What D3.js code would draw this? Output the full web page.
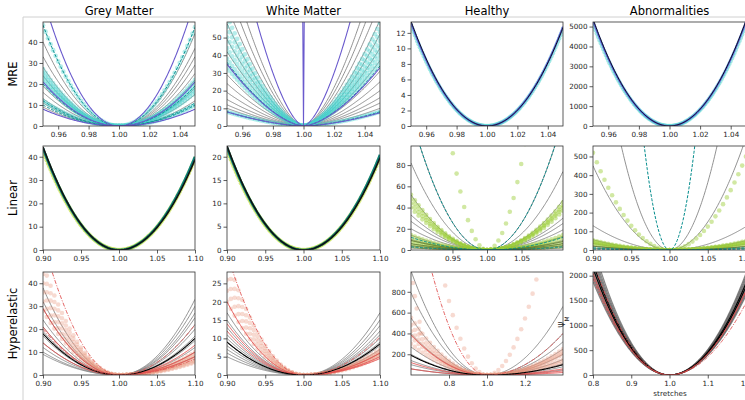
<!DOCTYPE html>
<html><head><meta charset="utf-8">
<script src="https://cdn.jsdelivr.net/npm/d3@7"></script>
<style>body{margin:0;background:#fff}svg{display:block}text{font-family:"DejaVu Sans",sans-serif}</style>
</head><body><svg id="c" width="745" height="400"></svg>
<script>
// ---------------- data (each curve: [value at left edge, value at right edge]) ----------------
const colTitles = ["Grey Matter", "White Matter", "Healthy", "Abnormalities"];
const rowTitles = ["MRE", "Linear", "Hyperelastic"];

// Row 1: MRE
const gmMreGray = [[40,44],[33,37],[28,33],[24,29],[19,25],[16,22],[13,18],[11,15],[9,12]];
const gmMreCyan = [[48,47],[27,22],[25,20],[23,18],[21,16],[12,10]];
const gmMreTeal = [[48,47],[20,19],[12,11],[10,10]];
const gmMrePurple = [[61,60],[21,21],[8,8]];
const wmMreGray = [[95,95],[80,82],[68,70],[58,60],[49,52],[42,44],[35,37],[29,31],[24,25],[19,20],[15,16],[12,13],[10,10]];
const wmMreCyan = [[62,58],[56,53],[50,48],[44,44],[38,40],[33,36],[8,8]];
const wmMreTeal = [[36,34],[8,8]];
const wmMrePurple = [[130,130],[35,33],[8,7.5],[100000,100000]];
const hMreCyan = [[13.0,12.5]];
const hMrePurple = [[13.3,12.8]];
const hMreBlack = [[13.5,12.7]];
const aMreCyan = [[5150,5100]];
const aMrePurple = [[5300,5250]];
const aMreBlack = [[5380,5300]];

// Row 2: Linear
const gmLinGreen = [[42.6,39.2]];
const gmLinTeal = [[43.6,40]];
const gmLinBlack = [[44.2,38.8]];
const wmLinGreen = [[21.5,19.9]];
const wmLinTeal = [[22,20.4]];
const wmLinBlack = [[22.3,19.8]];
const hLinGray = [[126,123],[82,74],[52,47],[33,30],[27,25],[20,19],[14,13],[10,9]];
const hLinGreen = [[450,400],[52,45],[48,42],[44,40],[40,37],[14,14],[10,11],[7,7],[4,4]];
const hLinTeal = [[126,123],[12,12],[3,3]];
const hLinOlive = [[9,8],[6,6],[4,4],[2,2]];
const aLinGray = [[1400,1440],[450,600],[130,125],[55,50],[35,32],[22,20]];
const aLinGreen = [[520,500],[52,48],[45,42],[38,36],[30,28]];
const aLinTeal = [[5100,5100],[12,12],[5,5]];
const aLinOlive = [[20,18],[10,9]];

// Row 3: Hyperelastic
const gmHypGray = [[38,33],[32,30],[29,27],[24,25],[21,22],[19,20],[17,17],[14,15],[12,12],[10,10],[9,8]];
const gmHypPink = [[48,10],[44,9],[40,8],[36,7],[32,6],[28,5.5]];
const gmHypRed = [[29,13],[21,10],[14,8]];
const gmHypBlack = [[18,16]];
const gmHypRedDash = [[58,22],[20,7]];
const wmHypGray = [[17,17],[15,15],[13,13.5],[11,12],[10,11],[9,10],[8,9],[7,8],[6,7],[5,6]];
const wmHypPink = [[32,7],[29,6.5],[26,6],[23,5.5],[20,5]];
const wmHypRed = [[20,6],[14,5],[12,4.5]];
const wmHypBlack = [[9,8.5]];
const wmHypRedDash = [[33,10.4]];
const hHypGray = [[1000,660],[790,400],[550,320],[400,250],[270,200],[200,150],[140,110],[100,80],[60,50]];
const hHypPink = [[2844,2172],[550,250],[480,220],[420,200],[370,150],[300,120]];
const hHypPinkExtra = [[0.61,885],[0.62,758],[0.63,640],[0.645,512],[0.65,404]];
const hHypRed = [[385,60],[120,40],[60,25]];
const hHypBlack = [[190,100]];
const hHypRedDash = [[1880,400]];
const aHypGray = [[2600,2050],[2500,2000],[2420,1950],[2350,1900],[2280,1850],[2200,1800],[2130,1760],[2060,1720],[2000,1680],[1940,1640],[1880,1600]];
const aHypRed = [[2050,1700]];
const aHypBlack = [[2150,1780],[2250,1850]];
const aHypRedDash = [[1950,1450],[2300,1700]];

// axes
const xTicksMre = [0.96,0.98,1.00,1.02,1.04];
const xTicksWide = [0.90,0.95,1.00,1.05,1.10];
const xTicksHLin = [0.95,1.00,1.05];
const xTicksHHyp = [0.8,1.0,1.2];
const xTicksAHyp = [0.8,0.9,1.0,1.1,1.2];

// ---------------- styles ----------------
const S = {
  gray:{type:'line',stroke:'#7f7f7f',w:1,op:0.85},
  grayDark:{type:'line',stroke:'#555',w:1.2,op:0.7},
  black:{type:'line',stroke:'#000',w:1.1,op:1},
  blackThin:{type:'line',stroke:'#000',w:0.9,op:1},
  blackThick:{type:'line',stroke:'#111',w:1.6,op:1},
  purple:{type:'line',stroke:'#6a5acd',w:1.1,op:1},
  purpleThick:{type:'line',stroke:'#5a5ae0',w:2,op:0.9},
  teal:{type:'line',stroke:'#008b8b',w:1,op:1,dash:'3,1.5'},
  tealThick:{type:'line',stroke:'#0a7f7a',w:2.6,op:1},
  cyan:{type:'dots',fill:'#48d1cc',r:2.4,op:0.4,n:61},
  cyanBand:{type:'dots',fill:'#48d1cc',r:2.2,op:0.5,n:121},
  green:{type:'dots',fill:'#9acd32',r:2.3,op:0.45,n:41},
  greenBand:{type:'dots',fill:'#c6e04a',r:2.2,op:0.7,n:121},
  olive:{type:'line',stroke:'#556b2f',w:1,op:0.9},
  red:{type:'line',stroke:'#e34a4a',w:1,op:0.9},
  redDash:{type:'line',stroke:'#e05050',w:1,op:0.9,dash:'4,1.5,1,1.5'},
  pink:{type:'dots',fill:'#e9967a',r:2.3,op:0.35,n:41}
};

const panels = [
  {r:0,c:0,xd:[0.95,1.05],yd:[0,49.5],xt:xTicksMre,yt:[0,10,20,30,40],xf:'.2f',p:2,
   s:[[gmMreGray,'gray'],[gmMreCyan,'cyan'],[gmMreTeal,'teal'],[gmMrePurple,'purple']]},
  {r:0,c:1,xd:[0.95,1.05],yd:[0,58.8],xt:xTicksMre,yt:[0,10,20,30,40,50],xf:'.2f',p:1.6,
   s:[[wmMreGray,'gray'],[wmMreCyan,'cyan'],[wmMreTeal,'teal'],[wmMrePurple,'purple']]},
  {r:0,c:2,xd:[0.95,1.05],yd:[0,13.4],xt:xTicksMre,yt:[0,2,4,6,8,10,12],xf:'.2f',p:2,
   s:[[hMreCyan,'cyanBand'],[hMrePurple,'purpleThick'],[hMreBlack,'blackThin']]},
  {r:0,c:3,xd:[0.95,1.05],yd:[0,5230],xt:xTicksMre,yt:[0,1000,2000,3000,4000,5000],xf:'.2f',p:2,
   s:[[aMreCyan,'cyanBand'],[aMrePurple,'purpleThick'],[aMreBlack,'blackThin']]},
  {r:1,c:0,xd:[0.9,1.1],yd:[0,44.6],xt:xTicksWide,yt:[0,10,20,30,40],xf:'.2f',p:2,
   s:[[gmLinGreen,'greenBand'],[gmLinTeal,'tealThick'],[gmLinBlack,'blackThick']]},
  {r:1,c:1,xd:[0.9,1.1],yd:[0,22.3],xt:xTicksWide,yt:[0,5,10,15,20],xf:'.2f',p:2,
   s:[[wmLinGreen,'greenBand'],[wmLinTeal,'tealThick'],[wmLinBlack,'blackThick']]},
  {r:1,c:2,xd:[0.89,1.11],yd:[0,98],xt:xTicksHLin,yt:[0,20,40,60,80],xf:'.2f',p:2,
   s:[[hLinGray,'gray'],[hLinGreen,'green'],[hLinOlive,'olive'],[hLinTeal,'teal']]},
  {r:1,c:3,xd:[0.9,1.1],yd:[0,556],xt:xTicksWide,yt:[0,100,200,300,400,500],xf:'.2f',p:2,
   s:[[aLinGray,'gray'],[aLinGreen,'green'],[aLinOlive,'olive'],[aLinTeal,'teal']]},
  {r:2,c:0,xd:[0.9,1.1],yd:[0,44.9],xt:xTicksWide,yt:[0,10,20,30,40],xf:'.2f',p:2,
   s:[[gmHypGray,'gray'],[gmHypPink,'pink'],[gmHypRed,'red'],[gmHypBlack,'black'],[gmHypRedDash,'redDash']]},
  {r:2,c:1,xd:[0.9,1.1],yd:[0,28.1],xt:xTicksWide,yt:[0,5,10,15,20,25],xf:'.2f',p:2,
   s:[[wmHypGray,'gray'],[wmHypPink,'pink'],[wmHypRed,'red'],[wmHypBlack,'black'],[wmHypRedDash,'redDash']]},
  {r:2,c:2,xd:[0.6,1.4],yd:[1,990],xt:xTicksHHyp,yt:[200,400,600,800],xf:'.1f',p:2,
   s:[[hHypGray,'gray'],[hHypPink,'pink'],[hHypRed,'red'],[hHypBlack,'black'],[hHypRedDash,'redDash']],
   extra:hHypPinkExtra},
  {r:2,c:3,xd:[0.8,1.2],yd:[0,2074],xt:xTicksAHyp,yt:[0,500,1000,1500,2000],xf:'.1f',p:2,
   s:[[aHypGray,'grayDark'],[aHypBlack,'black'],[aHypRed,'red'],[aHypRedDash,'redDash']]}
];

// ---------------- layout ----------------
const colLeft = [43, 227, 411, 593], colW = [152,153,152,153];
const rowTop = [22, 146, 272], rowH = [104, 104, 103];
const svg = d3.select('#c');

// light frame lines
svg.append('line').attr('x1',23).attr('x2',745).attr('y1',17).attr('y2',17).attr('stroke','#d0d0d0').attr('stroke-width',1);
svg.append('line').attr('x1',23).attr('x2',23).attr('y1',17).attr('y2',400).attr('stroke','#d0d0d0').attr('stroke-width',1);

function curve(pair, x0, x1, p, n){
  const [L,R] = pair;
  return d3.range(n).map(i=>{
    const x = x0+(x1-x0)*i/(n-1);
    const y = x<1 ? L*Math.pow((1-x)/(1-x0),p) : R*Math.pow((x-1)/(x1-1),p);
    return [x,y];
  });
}

panels.forEach((P,idx)=>{
  const L = colLeft[P.c], T = rowTop[P.r], Wd = colW[P.c], Ht = rowH[P.r];
  const x = d3.scaleLinear().domain(P.xd).range([L, L+Wd]);
  const y = d3.scaleLinear().domain(P.yd).range([T+Ht, T]);
  const cid = 'clip'+idx;
  svg.append('clipPath').attr('id',cid).append('rect').attr('x',L).attr('y',T).attr('width',Wd).attr('height',Ht);
  const g = svg.append('g').attr('clip-path',`url(#${cid})`);
  const line = d3.line().x(d=>x(d[0])).y(d=>y(d[1]));
  P.s.forEach(([arr,sty])=>{
    const st = S[sty];
    arr.forEach(pair=>{
      if(st.type==='line'){
        g.append('path').attr('d',line(curve(pair,P.xd[0],P.xd[1],P.p,201)))
          .attr('fill','none').attr('stroke',st.stroke).attr('stroke-width',st.w)
          .attr('stroke-opacity',st.op).attr('stroke-dasharray',st.dash||null);
      } else {
        const pts = curve(pair,P.xd[0],P.xd[1],P.p,st.n).filter(d=>d[1]<=P.yd[1]*1.05);
        g.selectAll(null).data(pts).enter().append('circle')
          .attr('cx',d=>x(d[0])).attr('cy',d=>y(d[1])).attr('r',st.r)
          .attr('fill',st.fill).attr('fill-opacity',st.op);
      }
    });
  });
  if(P.extra){
    g.selectAll(null).data(P.extra).enter().append('circle')
      .attr('cx',d=>x(d[0])).attr('cy',d=>y(d[1])).attr('r',S.pink.r)
      .attr('fill',S.pink.fill).attr('fill-opacity',S.pink.op);
  }
  // spines
  svg.append('rect').attr('x',L).attr('y',T).attr('width',Wd).attr('height',Ht)
    .attr('fill','none').attr('stroke','#333').attr('stroke-width',0.8);
  // axes
  const xa = svg.append('g').attr('transform',`translate(0,${T+Ht})`)
    .call(d3.axisBottom(x).tickValues(P.xt).tickFormat(d3.format(P.xf)).tickSize(3.5).tickPadding(2));
  const ya = svg.append('g').attr('transform',`translate(${L},0)`)
    .call(d3.axisLeft(y).tickValues(P.yt).tickFormat(d3.format('d')).tickSize(3.5).tickPadding(2));
  [xa,ya].forEach(a=>{
    a.select('.domain').remove();
    a.selectAll('line').attr('stroke','#333').attr('stroke-width',0.8);
    a.selectAll('text').attr('fill','#262626').style('font-size','7.2px').style('font-family','"DejaVu Sans",sans-serif');
  });
});

// titles
colTitles.forEach((t,i)=>{
  svg.append('text').attr('x',colLeft[i]+colW[i]/2).attr('y',14.5).attr('text-anchor','middle')
    .style('font-size','11.5px').attr('fill','#000').text(t);
});
rowTitles.forEach((t,i)=>{
  const cy = rowTop[i]+rowH[i]/2;
  svg.append('text').attr('transform',`translate(17,${cy}) rotate(-90)`).attr('text-anchor','middle')
    .style('font-size','11.5px').attr('fill','#000').text(t);
});
svg.append('text').attr('x',colLeft[3]+77).attr('y',396).attr('text-anchor','middle')
  .style('font-size','7.2px').attr('fill','#262626').text('stretches');
const yl = svg.append('text').attr('transform',`translate(565,322) rotate(-90)`).attr('text-anchor','middle')
  .style('font-size','8px').attr('fill','#262626');
yl.append('tspan').text('Ψ');
yl.append('tspan').attr('baseline-shift','sub').style('font-size','6px').text('M');
</script></body></html>
